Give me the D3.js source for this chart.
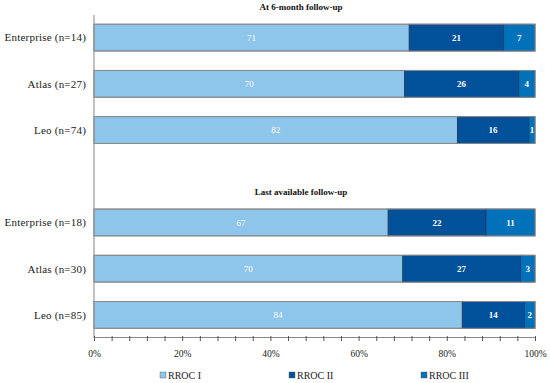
<!DOCTYPE html>
<html>
<head>
<meta charset="utf-8">
<script src="https://cdn.jsdelivr.net/npm/d3@7"></script>
<style>
  body { margin: 0; background: #fff; }
  svg text { font-family: "Liberation Serif", serif; }
</style>
</head>
<body>
<div id="container"></div>
<script>
const width = 550;
const height = 383;

// rows of the chart, a spacer row sits between the two follow-up groups
const rows = ['e6', 'a6', 'l6', 'gap', 'el', 'al', 'll'];
const rowLabels = [
  'Enterprise (n=14)',
  'Atlas (n=27)',
  'Leo (n=74)',
  '',
  'Enterprise (n=18)',
  'Atlas (n=30)',
  'Leo (n=85)',
];
const series = ['RROC I', 'RROC II', 'RROC III'];
const rrocI = [71.4, 70.4, 82.4, null, 66.7, 70.0, 83.5];
const rrocII = [21.4, 25.9, 16.2, null, 22.2, 26.7, 14.1];
const rrocIII = [7.1, 3.7, 1.4, null, 11.1, 3.3, 2.4];
const groupTitles = ['At 6-month follow-up', 'Last available follow-up'];
const tickValues = [0, 20, 40, 60, 80, 100];

const colors = ['#8ec5ea', '#00519a', '#0071bb'];
const labelWeight = ['normal', 'bold', 'bold'];

const xScale = d3.scaleLinear().domain([0, 100]).range([94, 535]);
const yScale = d3
  .scaleBand()
  .domain(rows)
  .range([14.5, 338])
  .paddingInner(0.42)
  .paddingOuter(0.21);

const svg = d3
  .select('#container')
  .append('svg')
  .attr('width', width)
  .attr('height', height);

const data = rows
  .map((r, i) => ({ row: r, label: rowLabels[i], v: [rrocI[i], rrocII[i], rrocIII[i]] }))
  .filter(d => d.row !== 'gap');

// bars
const barG = svg.append('g');
data.forEach(d => {
  let start = 0;
  const total = d.v[0] + d.v[1] + d.v[2];
  d.v.forEach((val, j) => {
    const x0 = xScale((start / total) * 100);
    const x1 = xScale(((start + val) / total) * 100);
    barG
      .append('rect')
      .attr('x', x0)
      .attr('y', yScale(d.row))
      .attr('width', x1 - x0)
      .attr('height', yScale.bandwidth())
      .attr('fill', colors[j])
      .attr('stroke', j === 0 ? '#7a7a7a' : '#1d3b63')
      .attr('stroke-width', 0.8);
    barG
      .append('text')
      .attr('x', (x0 + x1) / 2)
      .attr('y', yScale(d.row) + yScale.bandwidth() / 2)
      .attr('dy', '0.35em')
      .attr('text-anchor', 'middle')
      .attr('fill', '#fff')
      .attr('font-size', 9)
      .attr('font-weight', labelWeight[j])
      .text(Math.round(val));
    start += val;
  });
  // grey outline round the whole bar
  barG
    .append('rect')
    .attr('x', xScale(0))
    .attr('y', yScale(d.row))
    .attr('width', xScale(100) - xScale(0))
    .attr('height', yScale.bandwidth())
    .attr('fill', 'none')
    .attr('stroke', '#8a8a8a')
    .attr('stroke-width', 1);
});

// category labels
svg
  .append('g')
  .selectAll('text')
  .data(data)
  .enter()
  .append('text')
  .attr('x', 86)
  .attr('y', d => yScale(d.row) + yScale.bandwidth() / 2)
  .attr('dy', '0.35em')
  .attr('text-anchor', 'end')
  .attr('font-size', 11)
  .attr('letter-spacing', '0.2px')
  .attr('fill', '#222')
  .text(d => d.label);

// group titles
svg
  .append('g')
  .selectAll('text')
  .data(groupTitles)
  .enter()
  .append('text')
  .attr('x', 301)
  .attr('y', (d, i) => (i === 0 ? 10 : 195))
  .attr('text-anchor', 'middle')
  .attr('font-size', 9)
  .attr('font-weight', 'bold')
  .attr('fill', '#111')
  .text(d => d);

// vertical axis line
svg
  .append('line')
  .attr('x1', xScale(0))
  .attr('x2', xScale(0))
  .attr('y1', 15)
  .attr('y2', 338)
  .attr('stroke', '#999')
  .attr('stroke-width', 1.2);

// x axis
const xAxis = d3
  .axisBottom(xScale)
  .tickValues(d3.range(0, 101, 4))
  .tickSizeInner(4)
  .tickSizeOuter(0)
  .tickFormat(d => (tickValues.includes(d) ? d + '%' : ''));
const xAxisG = svg
  .append('g')
  .attr('transform', 'translate(0,337)')
  .call(xAxis);
xAxisG.attr('font-family', null);
xAxisG.select('.domain').attr('stroke', '#888');
xAxisG.selectAll('.tick line').attr('stroke', '#555').attr('y1', -1);
xAxisG
  .selectAll('.tick text')
  .attr('font-size', 9.5)
  .attr('fill', '#222')
  .attr('dy', 0)
  .attr('y', 20);

// legend
const legendX = [163, 292, 424];
const legend = svg
  .append('g')
  .selectAll('g')
  .data(series)
  .enter()
  .append('g')
  .attr('transform', (d, i) => 'translate(' + legendX[i] + ',375)');
legend
  .append('rect')
  .attr('x', -3)
  .attr('y', -3)
  .attr('width', 6)
  .attr('height', 6)
  .attr('fill', (d, i) => colors[i])
  .attr('stroke', '#555')
  .attr('stroke-width', 0.4);
legend
  .append('text')
  .attr('x', 5)
  .attr('dy', '0.35em')
  .attr('font-size', 10)
  .attr('fill', '#222')
  .text(d => d);
</script>
</body>
</html>
